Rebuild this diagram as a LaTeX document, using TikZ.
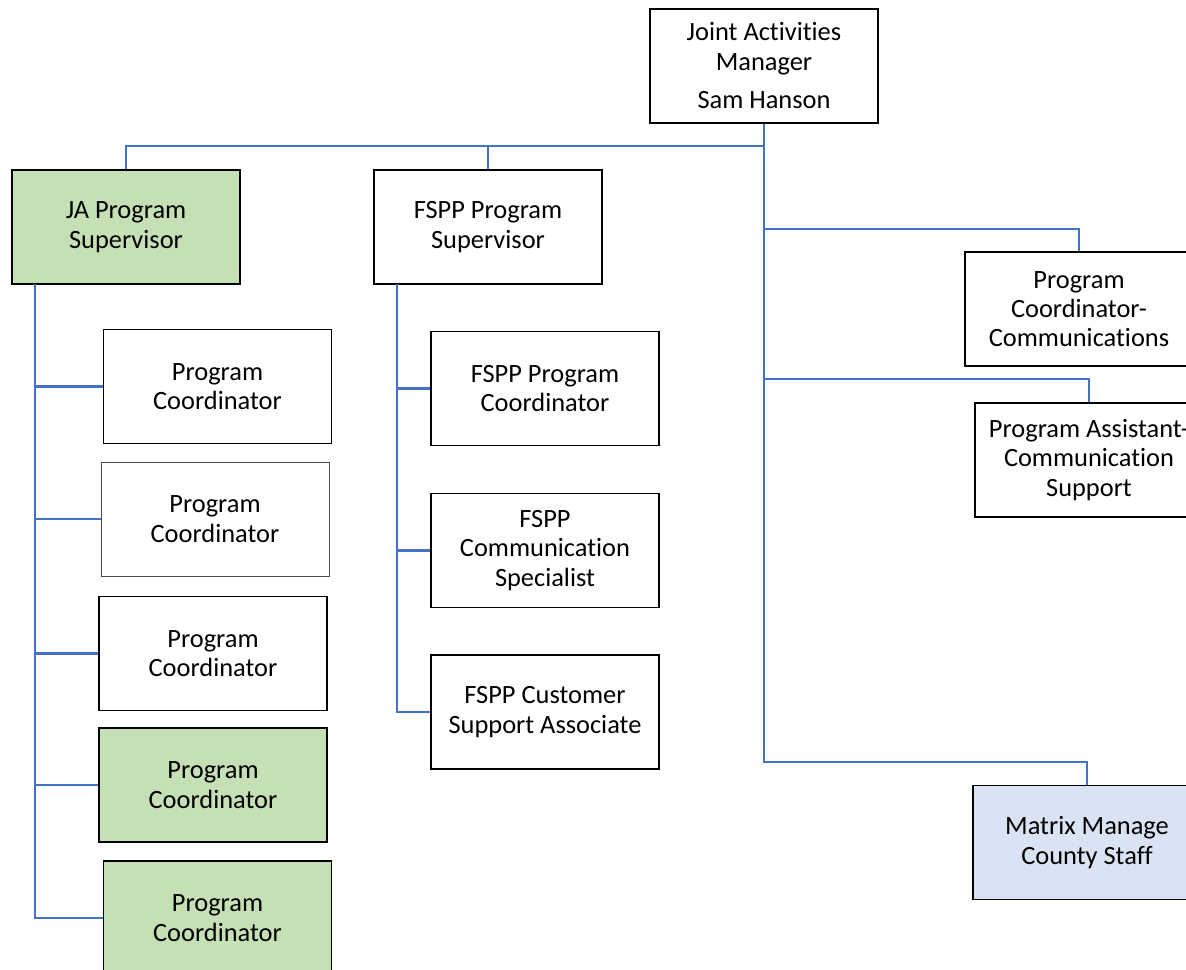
\documentclass[tikz,border=0pt]{standalone}
\usepackage{fontspec}
\setmainfont{Carlito}[Ligatures=NoCommon]
\definecolor{linkblue}{HTML}{4472C4}
\definecolor{boxgreen}{HTML}{C5E0B4}
\definecolor{boxblue}{HTML}{DAE3F3}
\tikzset{
  unit/.style={draw=black,line width=1pt,fill=white,minimum width=171pt,minimum height=85.5pt,
    align=center,inner sep=2pt,font=\fontsize{19.8}{22}\selectfont},
  link/.style={draw=linkblue,line width=2.2pt},
}
\begin{document}
\begin{tikzpicture}[x=.75pt,y=-.75pt,line join=miter]
	\useasboundingbox (0,0) rectangle (1186,970);
	\clip (0,0) rectangle (1186,970);
	% nodes
	\node[unit] (mgr) at (764,66) {Joint Activities\\Manager\\[7pt]Sam Hanson};
	\node[unit,fill=boxgreen] (ja) at (126,227) {JA Program\\Supervisor};
	\node[unit] (fs) at (488,227) {FSPP Program\\Supervisor};
	\node[unit] (pc1) at (217.5,386.5) {Program\\Coordinator};
	\node[unit,draw=black!70,line width=.7pt] (pc2) at (215,519) {Program\\Coordinator};
	\node[unit] (pc3) at (213,653.5) {Program\\Coordinator};
	\node[unit,fill=boxgreen] (pc4) at (213,785) {Program\\Coordinator};
	\node[unit,fill=boxgreen] (pc5) at (217.5,918) {Program\\Coordinator};
	\node[unit] (fs1) at (545,388.5) {FSPP Program\\Coordinator};
	\node[unit] (fs2) at (545,550.5) {FSPP\\Communication\\Specialist};
	\node[unit] (fs3) at (545,712) {FSPP Customer\\Support Associate};
	\node[unit] (pcc) at (1079,309) {Program\\Coordinator-\\Communications};
	\node[unit] (pac) at (1089,460) {Program Assistant-\\Communication\\Support};
	\node[unit,fill=boxblue] (mat) at (1087,842.5) {Matrix Manage\\County Staff};
	% trunk points
	\path (764,146) coordinate (bus)
		(764,229) coordinate (t1)
		(764,379) coordinate (t2)
		(764,762) coordinate (t3)
		(35,284) coordinate (jt)
		(397,284) coordinate (ft);
	% connectors
	\draw[link] (mgr.south)--(t3) -| (mat.north);
	\draw[link] (bus) -| (ja.north) (bus) -| (fs.north);
	\draw[link] (t1) -| (pcc.north) (t2) -| (pac.north);
	\draw[link] (jt) |- (pc5.west);
	\draw[link] (ft) |- (fs3.west);
	\foreach \n in {pc1,pc2,pc3,pc4}{\draw[link] (jt |- \n.west)--(\n.west);}
	\foreach \n in {fs1,fs2}{\draw[link] (ft |- \n.west)--(\n.west);}
\end{tikzpicture}
\end{document}
